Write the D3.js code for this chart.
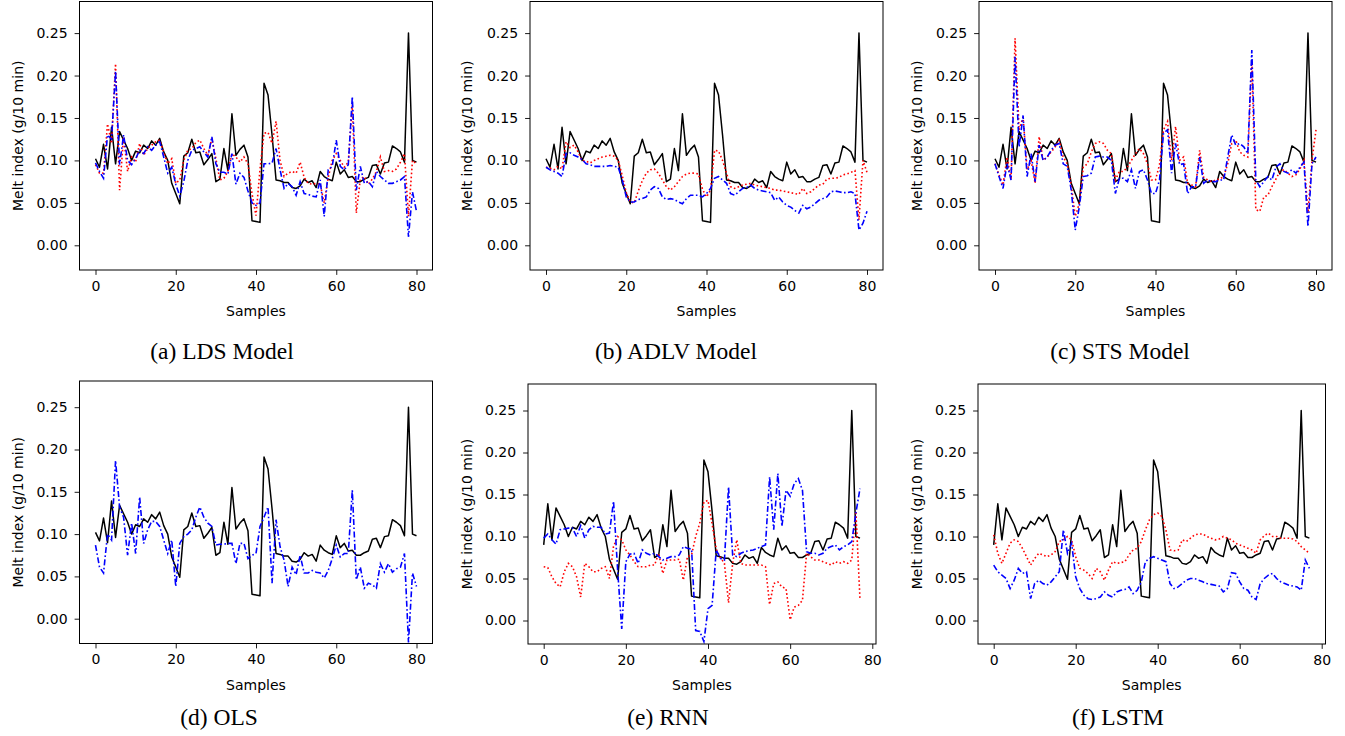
<!DOCTYPE html>
<html><head><meta charset="utf-8">
<script src="https://cdn.jsdelivr.net/npm/d3@7"></script>
<style>body{margin:0;background:#fff}svg{display:block}</style>
</head><body>
<svg id="chart" width="1345" height="736"></svg>
<script>
// ---------------- data ----------------
const xTicks = [0, 20, 40, 60, 80];
const yTicks = [0.00, 0.05, 0.10, 0.15, 0.20, 0.25];
const captions = ["(a) LDS Model", "(b) ADLV Model", "(c) STS Model", "(d) OLS", "(e) RNN", "(f) LSTM"];
const yLabel = "Melt index (g/10 min)";
const xLabel = "Samples";

const actual = [0.102,0.092,0.119,0.090,0.139,0.096,0.134,0.124,0.114,0.100,
 0.111,0.109,0.118,0.114,0.123,0.118,0.126,0.110,0.100,0.073,
 0.061,0.049,0.105,0.109,0.125,0.109,0.110,0.095,0.101,0.108,
 0.075,0.078,0.114,0.088,0.155,0.106,0.113,0.118,0.104,0.029,
 0.028,0.027,0.191,0.177,0.130,0.077,0.076,0.074,0.074,0.068,
 0.067,0.070,0.078,0.074,0.076,0.068,0.087,0.081,0.078,0.076,
 0.098,0.084,0.089,0.080,0.081,0.075,0.075,0.078,0.080,0.094,
 0.095,0.084,0.097,0.098,0.117,0.114,0.110,0.098,0.250,0.100,0.098];

const ldsRed = [0.095,0.085,0.085,0.143,0.120,0.214,0.065,0.128,0.087,0.104,
 0.098,0.120,0.106,0.114,0.118,0.122,0.124,0.110,0.096,0.102,
 0.073,0.077,0.100,0.112,0.114,0.121,0.124,0.114,0.106,0.126,
 0.102,0.077,0.079,0.087,0.108,0.104,0.098,0.104,0.096,0.061,
 0.035,0.090,0.132,0.133,0.120,0.146,0.100,0.081,0.085,0.087,
 0.085,0.098,0.080,0.073,0.072,0.073,0.072,0.050,0.080,0.100,
 0.108,0.100,0.092,0.098,0.165,0.038,0.078,0.081,0.072,0.078,
 0.087,0.104,0.087,0.088,0.087,0.090,0.098,0.108,0.034,0.100,0.096];
const ldsBlue = [0.097,0.087,0.079,0.130,0.125,0.205,0.095,0.130,0.100,0.095,
 0.102,0.112,0.108,0.116,0.112,0.118,0.122,0.104,0.085,0.092,
 0.072,0.058,0.075,0.100,0.112,0.114,0.116,0.110,0.104,0.128,
 0.096,0.086,0.086,0.084,0.108,0.072,0.085,0.080,0.064,0.050,
 0.047,0.050,0.096,0.096,0.097,0.114,0.089,0.067,0.073,0.069,
 0.059,0.075,0.061,0.060,0.058,0.057,0.077,0.034,0.089,0.093,
 0.124,0.093,0.089,0.095,0.175,0.065,0.093,0.073,0.075,0.069,
 0.087,0.081,0.077,0.073,0.073,0.075,0.077,0.081,0.010,0.063,0.040];

const adlvRed = [0.092,0.091,0.089,0.093,0.090,0.122,0.115,0.118,0.110,0.100,
 0.099,0.097,0.100,0.102,0.104,0.105,0.106,0.105,0.100,0.082,
 0.062,0.051,0.050,0.064,0.076,0.085,0.089,0.090,0.085,0.077,
 0.069,0.065,0.069,0.075,0.081,0.084,0.085,0.085,0.084,0.066,
 0.057,0.065,0.112,0.111,0.100,0.085,0.069,0.067,0.069,0.071,
 0.072,0.073,0.071,0.070,0.069,0.068,0.067,0.065,0.065,0.064,
 0.063,0.062,0.061,0.060,0.067,0.061,0.063,0.067,0.071,0.072,
 0.078,0.079,0.079,0.080,0.083,0.084,0.086,0.088,0.030,0.100,0.086];
const adlvBlue = [0.092,0.089,0.087,0.085,0.081,0.108,0.109,0.106,0.104,0.101,
 0.096,0.095,0.093,0.093,0.093,0.093,0.094,0.093,0.092,0.077,
 0.057,0.051,0.051,0.054,0.055,0.057,0.065,0.069,0.067,0.057,
 0.054,0.055,0.054,0.051,0.049,0.055,0.059,0.059,0.059,0.057,
 0.061,0.067,0.079,0.081,0.077,0.073,0.061,0.059,0.063,0.067,
 0.068,0.071,0.067,0.065,0.064,0.063,0.062,0.053,0.057,0.051,
 0.047,0.045,0.041,0.038,0.047,0.043,0.045,0.049,0.053,0.055,
 0.057,0.063,0.064,0.063,0.062,0.062,0.063,0.061,0.018,0.026,0.040];

const stsRed = [0.096,0.083,0.071,0.104,0.077,0.244,0.136,0.151,0.089,0.100,
 0.073,0.128,0.100,0.104,0.110,0.116,0.124,0.104,0.096,0.071,
 0.034,0.049,0.092,0.096,0.110,0.120,0.122,0.120,0.112,0.108,
 0.077,0.087,0.087,0.092,0.100,0.108,0.114,0.108,0.096,0.077,
 0.077,0.095,0.136,0.146,0.100,0.140,0.100,0.104,0.073,0.071,
 0.069,0.112,0.080,0.077,0.075,0.077,0.078,0.081,0.096,0.120,
 0.124,0.110,0.106,0.104,0.218,0.042,0.040,0.057,0.059,0.069,
 0.078,0.087,0.089,0.085,0.081,0.083,0.090,0.100,0.038,0.100,0.136];
const stsBlue = [0.096,0.081,0.067,0.096,0.077,0.222,0.116,0.153,0.081,0.108,
 0.075,0.118,0.100,0.104,0.112,0.118,0.120,0.096,0.093,0.065,
 0.018,0.045,0.081,0.082,0.085,0.104,0.105,0.104,0.104,0.100,
 0.061,0.079,0.079,0.075,0.089,0.067,0.087,0.089,0.077,0.061,
 0.061,0.077,0.132,0.136,0.085,0.120,0.095,0.096,0.061,0.069,
 0.069,0.104,0.073,0.077,0.075,0.075,0.077,0.077,0.104,0.130,
 0.118,0.120,0.116,0.108,0.230,0.077,0.069,0.075,0.081,0.077,
 0.092,0.096,0.087,0.085,0.089,0.085,0.092,0.098,0.022,0.096,0.104];

const olsBlue = [0.087,0.061,0.054,0.100,0.093,0.187,0.132,0.120,0.075,0.113,
 0.077,0.144,0.089,0.105,0.115,0.115,0.109,0.093,0.077,0.093,
 0.038,0.089,0.097,0.100,0.105,0.120,0.132,0.120,0.113,0.109,
 0.087,0.088,0.088,0.089,0.089,0.065,0.089,0.089,0.071,0.075,
 0.077,0.109,0.120,0.132,0.042,0.117,0.085,0.069,0.038,0.061,
 0.052,0.075,0.054,0.054,0.057,0.055,0.054,0.048,0.057,0.071,
 0.087,0.073,0.077,0.077,0.152,0.046,0.061,0.036,0.042,0.040,
 0.036,0.065,0.055,0.065,0.055,0.059,0.061,0.077,-0.028,0.054,0.038];

const rnnRed = [0.064,0.063,0.052,0.044,0.040,0.058,0.068,0.064,0.052,0.028,
 0.068,0.064,0.058,0.058,0.062,0.064,0.050,0.088,0.100,0.096,
 0.084,0.078,0.070,0.064,0.064,0.064,0.066,0.066,0.080,0.056,
 0.072,0.072,0.072,0.073,0.048,0.076,0.078,0.100,0.116,0.141,
 0.143,0.115,0.085,0.075,0.068,0.021,0.068,0.096,0.068,0.066,
 0.066,0.066,0.066,0.066,0.064,0.019,0.044,0.046,0.040,0.038,
 0.001,0.016,0.018,0.024,0.080,0.076,0.072,0.072,0.070,0.068,
 0.066,0.070,0.068,0.070,0.068,0.072,0.130,0.026];
const rnnBlue = [0.098,0.103,0.096,0.091,0.108,0.109,0.110,0.110,0.100,0.113,
 0.098,0.108,0.112,0.111,0.111,0.103,0.104,0.142,0.060,-0.010,
 0.070,0.079,0.080,0.068,0.084,0.080,0.078,0.080,0.076,0.072,
 0.074,0.076,0.076,0.078,0.088,0.086,0.085,-0.012,-0.013,-0.025,
 0.014,0.018,0.084,0.074,0.072,0.159,0.078,0.076,0.080,0.082,
 0.083,0.084,0.086,0.088,0.090,0.171,0.108,0.175,0.112,0.155,
 0.148,0.163,0.169,0.155,0.082,0.080,0.080,0.078,0.080,0.086,
 0.088,0.090,0.084,0.088,0.090,0.094,0.128,0.157];

const lstmRed = [0.102,0.080,0.068,0.080,0.092,0.096,0.094,0.086,0.076,0.066,
 0.074,0.080,0.078,0.076,0.078,0.082,0.094,0.096,0.100,0.096,
 0.076,0.062,0.060,0.056,0.050,0.062,0.058,0.048,0.060,0.070,
 0.068,0.069,0.070,0.078,0.084,0.086,0.094,0.108,0.120,0.126,
 0.128,0.124,0.108,0.084,0.083,0.084,0.096,0.094,0.098,0.102,
 0.103,0.103,0.100,0.098,0.096,0.097,0.100,0.098,0.096,0.092,
 0.090,0.088,0.086,0.084,0.080,0.096,0.101,0.104,0.100,0.100,
 0.098,0.098,0.098,0.097,0.094,0.088,0.084,0.080];
const lstmBlue = [0.066,0.058,0.054,0.050,0.038,0.048,0.062,0.056,0.058,0.026,
 0.044,0.048,0.044,0.042,0.046,0.052,0.058,0.108,0.080,0.092,
 0.052,0.038,0.030,0.026,0.025,0.026,0.028,0.034,0.030,0.028,
 0.034,0.036,0.037,0.040,0.032,0.036,0.046,0.070,0.074,0.076,
 0.074,0.072,0.070,0.044,0.038,0.040,0.044,0.048,0.050,0.050,
 0.048,0.046,0.044,0.043,0.042,0.041,0.034,0.038,0.057,0.056,
 0.046,0.038,0.036,0.028,0.025,0.044,0.050,0.054,0.056,0.050,
 0.046,0.044,0.042,0.041,0.040,0.036,0.072,0.062];

// RNN / LSTM outputs start 3 samples later (lag window)
const actualLagged = actual.slice(3);

// ---------------- layout ----------------
const svg = d3.select("#chart");
const FONT = "'DejaVu Sans', sans-serif";
const SERIF = "'Liberation Serif', 'Times New Roman', serif";

const panels = [
  {cap: captions[0], k: actual, r: ldsRed, b: ldsBlue, L: 79.5, R: 432.5, T: 1.5, B: 270, x0: 95.5, x80: 416.5, y0: 245.3, y25: 33.1, ylx: 18, capX: 222, capY: 359},
  {cap: captions[1], k: actual, r: adlvRed, b: adlvBlue, L: 530, R: 883, T: 1.5, B: 270, x0: 546, x80: 867, y0: 245.3, y25: 33.1, ylx: 467, capX: 676, capY: 359},
  {cap: captions[2], k: actual, r: stsRed, b: stsBlue, L: 979, R: 1332, T: 1.5, B: 270, x0: 995, x80: 1316, y0: 245.3, y25: 33.1, ylx: 917, capX: 1120, capY: 359},
  {cap: captions[3], k: actual, r: null, b: olsBlue, L: 79.5, R: 432.5, T: 381, B: 643.5, x0: 95.5, x80: 416.5, y0: 618.7, y25: 407.2, ylx: 18, capX: 219, capY: 725},
  {cap: captions[4], k: actualLagged, r: rnnRed, b: rnnBlue, L: 528, R: 876, T: 384, B: 644, x0: 543.7, x80: 872.3, y0: 620.5, y25: 410.5, ylx: 467, capX: 668, capY: 725},
  {cap: captions[5], k: actualLagged, r: lstmRed, b: lstmBlue, L: 978, R: 1325.5, T: 384, B: 644, x0: 993.7, x80: 1321.7, y0: 620.5, y25: 410.5, ylx: 917, capX: 1118, capY: 725}
];

panels.forEach((p, pi) => {
  const x = d3.scaleLinear().domain([0, 80]).range([p.x0, p.x80]);
  const y = d3.scaleLinear().domain([0, 0.25]).range([p.y0, p.y25]);
  const g = svg.append("g");
  const clipId = "clip" + pi;
  svg.append("clipPath").attr("id", clipId).append("rect")
    .attr("x", p.L).attr("y", p.T).attr("width", p.R - p.L).attr("height", p.B - p.T);

  const line = d3.line().x((d, i) => x(i)).y(d => y(d));
  const lines = g.append("g").attr("clip-path", `url(#${clipId})`);
  lines.append("path").datum(p.k).attr("d", line)
    .attr("fill", "none").attr("stroke", "#000").attr("stroke-width", 1.5).attr("stroke-linejoin", "round");
  if (p.r) lines.append("path").datum(p.r).attr("d", line)
    .attr("fill", "none").attr("stroke", "#ff0000").attr("stroke-width", 1.6)
    .attr("stroke-dasharray", "1.6,2.4");
  lines.append("path").datum(p.b).attr("d", line)
    .attr("fill", "none").attr("stroke", "#0000ff").attr("stroke-width", 1.6)
    .attr("stroke-dasharray", "6,2.4,1.6,2.4");

  // frame
  g.append("rect").attr("x", p.L).attr("y", p.T).attr("width", p.R - p.L).attr("height", p.B - p.T)
    .attr("fill", "none").attr("stroke", "#000").attr("stroke-width", 1);

  // axes
  const ax = g.append("g").attr("transform", `translate(0,${p.B})`)
    .call(d3.axisBottom(x).tickValues(xTicks).tickFormat(d3.format("d")).tickSize(4.9).tickPadding(6).tickSizeOuter(0));
  const ay = g.append("g").attr("transform", `translate(${p.L},0)`)
    .call(d3.axisLeft(y).tickValues(yTicks).tickFormat(d3.format(".2f")).tickSize(4.9).tickPadding(7).tickSizeOuter(0));
  [ax, ay].forEach(a => {
    a.select(".domain").remove();
    a.selectAll("text").attr("font-family", FONT).attr("font-size", 14).attr("fill", "#000");
    a.selectAll("line").attr("stroke", "#000").attr("stroke-width", 0.9);
  });

  // axis labels
  g.append("text").attr("x", (p.L + p.R) / 2).attr("y", p.B + 46)
    .attr("text-anchor", "middle").attr("font-family", FONT).attr("font-size", 14).text(xLabel);
  g.append("text").attr("transform", `translate(${p.ylx},${(p.T + p.B) / 2}) rotate(-90)`)
    .attr("text-anchor", "middle").attr("dominant-baseline", "central")
    .attr("font-family", FONT).attr("font-size", 14).text(yLabel);

  // caption
  g.append("text").attr("x", p.capX).attr("y", p.capY).attr("text-anchor", "middle")
    .attr("font-family", SERIF).attr("font-size", 23.5).text(p.cap);
});
</script>
</body></html>
